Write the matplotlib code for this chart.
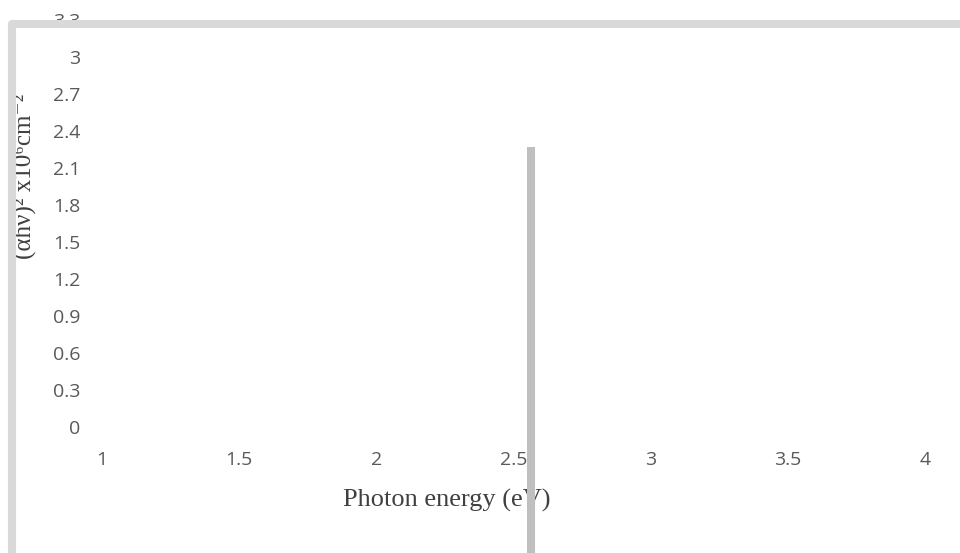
import matplotlib.pyplot as plt
from matplotlib.lines import Line2D
import numpy as np

# axis ranges and ticks
x_ticks = [1, 1.5, 2, 2.5, 3, 3.5, 4]
y_ticks = [0, 0.3, 0.6, 0.9, 1.2, 1.5, 1.8, 2.1, 2.4, 2.7, 3, 3.3]
y_tick_labels = ['0', '0.3', '0.6', '0.9', '1.2', '1.5', '1.8', '2.1', '2.4', '2.7', '3', '3.3']

# the single grey vertical marker (band gap position)
marker_x = [2.565, 2.565]
marker_y = [2.27, -1.3]

W, H = 960, 553
fig = plt.figure(figsize=(W / 100, H / 100), dpi=100)
ax = fig.add_axes([102 / W, (H - 427) / H, 823 / W, 407 / H])

ax.set_xlim(1, 4)
ax.set_ylim(0, 3.3)
ax.set_xticks(x_ticks)
ax.set_xticklabels([f'{v:g}' for v in x_ticks])
ax.set_yticks(y_ticks)
ax.set_yticklabels(y_tick_labels)
for s in ax.spines.values():
    s.set_visible(False)
ax.tick_params(axis='both', length=0, labelsize=14, labelcolor='#595959')
ax.tick_params(axis='y', pad=15.5)
ax.tick_params(axis='x', pad=17)
for lab in ax.get_xticklabels() + ax.get_yticklabels():
    lab.set_family('Open Sans')

ax.plot(marker_x, marker_y, color='#bfbfbf', lw=5.8, solid_capstyle='butt',
        clip_on=False, zorder=3)

ax.text(447 / W, 1 - 507 / H, 'Photon energy (eV)', transform=fig.transFigure,
        ha='center', va='baseline', fontsize=19, color='#404040',
        family=['Liberation Serif', 'DejaVu Serif'], zorder=1)

fig.text(25 / W, 1 - 176 / H, '(αhν)² x10⁶cm⁻²', rotation=90, ha='center',
         va='center', fontsize=18, color='#404040',
         family=['Liberation Serif', 'DejaVu Serif'], zorder=3)

# outer frame, partly off the picture
frame = Line2D([11.5 / W, 11.5 / W, 11.5 / W, 1.02], [-0.05, 1 - 24 / H, 1 - 24 / H, 1 - 24 / H],
               transform=fig.transFigure, color='#d9d9d9', lw=5.8,
               solid_joinstyle='round', zorder=5)
fig.add_artist(frame)

fig.savefig('out.png', dpi=100)
